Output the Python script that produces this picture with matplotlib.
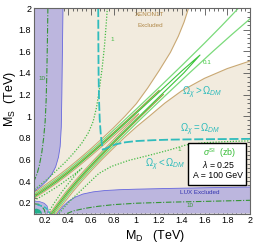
import matplotlib
matplotlib.use("Agg")
import matplotlib.pyplot as plt
from matplotlib.patches import Polygon, Rectangle
from matplotlib.ticker import MultipleLocator, FuncFormatter
import numpy as np

plt.rcParams['font.family'] = ['Liberation Sans', 'DejaVu Sans']
plt.rcParams['mathtext.fontset'] = 'custom'
plt.rcParams['mathtext.rm'] = 'Liberation Sans'
plt.rcParams['mathtext.it'] = 'Liberation Sans:italic'
plt.rcParams['mathtext.bf'] = 'Liberation Sans:bold'

# ---------------- data (TeV) ----------------
# LUX excluded boundaries
lux_left_x = [0.355, 0.35, 0.345, 0.34, 0.33, 0.315, 0.29, 0.255, 0.21, 0.16, 0.1]
lux_left_y = [2.0, 1.6, 1.2, 0.9, 0.72, 0.62, 0.53, 0.46, 0.4, 0.35, 0.305]
lux_bot_x = [0.305, 0.35, 0.40, 0.46, 0.53, 0.62, 0.72, 0.85, 1.0, 1.3, 1.6, 2.0]
lux_bot_y = [0.1, 0.16, 0.21, 0.25, 0.28, 0.30, 0.312, 0.32, 0.325, 0.332, 0.338, 0.345]
lux_corner_x = [0.1, 0.1, 0.15, 0.19, 0.215, 0.225, 0.215]
lux_corner_y = [0.1, 0.215, 0.21, 0.195, 0.17, 0.13, 0.1]
teal_x = [0.1, 0.1, 0.125, 0.15, 0.165, 0.17]
teal_y = [0.1, 0.142, 0.145, 0.135, 0.118, 0.1]

# XENON1T boundaries (outer = edge of allowed white region, inner = wedge)
xe_up_x = [1.46, 1.42, 1.37, 1.3, 1.2, 1.1, 1.0, 0.9, 0.8, 0.7, 0.6, 0.5, 0.4, 0.3, 0.2, 0.1]
xe_up_y = [2.0, 1.87, 1.74, 1.59, 1.42, 1.26, 1.115, 0.999, 0.893, 0.794, 0.698, 0.607, 0.521, 0.44, 0.365, 0.293]
xe_lo_x = [0.293, 0.365, 0.44, 0.521, 0.607, 0.698, 0.794, 0.893, 0.999, 1.115, 1.25, 1.4, 1.6, 1.8, 2.0]
xe_lo_y = [0.1, 0.2, 0.3, 0.4, 0.5, 0.6, 0.7, 0.8, 0.9, 1.0, 1.12, 1.235, 1.35, 1.44, 1.51]
xe_in_up_x = [1.02, 1.0, 0.9, 0.8, 0.7, 0.6, 0.5, 0.4, 0.3, 0.2, 0.1]
xe_in_up_y = [1.02, 1.006, 0.911, 0.816, 0.723, 0.632, 0.544, 0.46, 0.381, 0.309, 0.24]
xe_in_lo_x = [0.24, 0.309, 0.381, 0.46, 0.544, 0.632, 0.723, 0.816, 0.911, 1.006, 1.02]
xe_in_lo_y = [0.1, 0.2, 0.3, 0.4, 0.5, 0.6, 0.7, 0.8, 0.9, 1.0, 1.02]

# blind-spot centre lines
bs_up_x = [0.1, 0.15, 0.2, 0.3, 0.4, 0.5, 0.6, 0.7, 0.8, 0.9, 1.0, 1.2]
bs_up_y = [0.265, 0.30, 0.335, 0.408, 0.488, 0.573, 0.662, 0.754, 0.848, 0.944, 1.04, 1.237]
bs_lo_x = [0.265, 0.30, 0.335, 0.408, 0.488, 0.573, 0.662, 0.754, 0.848, 0.944, 1.04, 1.237]
bs_lo_y = [0.1, 0.15, 0.2, 0.3, 0.4, 0.5, 0.6, 0.7, 0.8, 0.9, 1.0, 1.2]

# sigma_SI = 0.1 zb (solid)
s01_up_x = [0.1, 0.2, 0.3, 0.4, 0.5, 0.6, 0.7, 0.8, 1.0, 1.2, 1.4, 1.6, 1.75, 1.9]
s01_up_y = [0.278, 0.349, 0.423, 0.504, 0.59, 0.68, 0.773, 0.87, 1.065, 1.265, 1.468, 1.675, 1.835, 2.0]
s01_lo_x = [0.278, 0.349, 0.423, 0.504, 0.59, 0.68, 0.773, 0.87, 1.065, 1.265, 1.468, 1.675, 1.835, 2.0]
s01_lo_y = [0.1, 0.2, 0.3, 0.4, 0.5, 0.6, 0.7, 0.8, 1.0, 1.2, 1.4, 1.6, 1.75, 1.9]
s01_tongue_x = [0.1, 0.2, 0.3, 0.4, 0.5, 0.6, 0.7, 0.8, 1.0, 1.2, 1.4, 1.56,
                1.418, 1.222, 1.027, 0.835, 0.741, 0.649, 0.56, 0.475, 0.395, 0.322, 0.252]
s01_tongue_y = [0.252, 0.322, 0.395, 0.475, 0.56, 0.649, 0.741, 0.835, 1.027, 1.222, 1.418, 1.565,
                1.4, 1.2, 1.0, 0.8, 0.7, 0.6, 0.5, 0.4, 0.3, 0.2, 0.1]

# sigma_SI = 1 zb (dotted)
s1_up_x = [0.745, 0.735, 0.72, 0.70, 0.675, 0.65, 0.62, 0.58, 0.52, 0.45, 0.38, 0.3, 0.22, 0.15, 0.1]
s1_up_y = [2.0, 1.85, 1.65, 1.45, 1.25, 1.08, 0.95, 0.85, 0.75, 0.66, 0.58, 0.5, 0.42, 0.36, 0.32]
s1_lo_x = [0.32, 0.36, 0.42, 0.5, 0.58, 0.67, 0.78, 0.93, 1.12, 1.3, 1.44, 1.6, 1.8, 2.0]
s1_lo_y = [0.1, 0.15, 0.22, 0.3, 0.38, 0.47, 0.535, 0.59, 0.64, 0.69, 0.735, 0.755, 0.765, 0.772]
s1_in_x = [0.1, 0.2, 0.3, 0.4, 0.47, 0.52, 0.475, 0.42, 0.345, 0.28, 0.22]
s1_in_y = [0.22, 0.28, 0.345, 0.42, 0.475, 0.518, 0.47, 0.4, 0.3, 0.2, 0.1]

# sigma_SI = 10 zb (dash-dot)
s10_up_x = [0.222, 0.218, 0.213, 0.207, 0.198, 0.185, 0.168, 0.148, 0.128, 0.1]
s10_up_y = [2.0, 1.7, 1.4, 1.15, 0.95, 0.8, 0.66, 0.55, 0.47, 0.40]
s10_lo_x = [0.39, 0.45, 0.55, 0.66, 0.8, 1.0, 1.3, 1.6, 2.0]
s10_lo_y = [0.1, 0.125, 0.148, 0.166, 0.182, 0.195, 0.205, 0.212, 0.222]
s10_in_x = [0.1, 0.14, 0.17, 0.19, 0.2]
s10_in_y = [0.19, 0.185, 0.165, 0.135, 0.1]

# relic density Omega = Omega_DM (dashed)
relic_x = [0.665, 0.666, 0.668, 0.672, 0.678, 0.686, 0.694, 0.700, 0.705, 0.72, 0.76,
           0.82, 0.9, 1.0, 1.15, 1.3, 1.5, 1.75, 2.0]
relic_y = [2.0, 1.7, 1.4, 1.15, 0.97, 0.85, 0.77, 0.72, 0.69, 0.695, 0.715,
           0.74, 0.758, 0.77, 0.778, 0.783, 0.786, 0.788, 0.79]
relic_low_x = [0.13, 0.17, 0.2, 0.225, 0.24]
relic_low_y = [0.18, 0.17, 0.155, 0.13, 0.1]

# ---------------- styling ----------------
BEIGE = '#f2ebde'
PURPLE = '#bcb6de'
TAN = '#c9a873'
OLIVE = '#98a040'
LGREEN = '#7ada7a'
BGREEN = '#3cc43c'
DOTG = '#45bb45'
DDG = '#359535'
CYAN = '#30bcbc'
BLUE = '#6666dd'

fig = plt.figure(figsize=(2.58, 2.47), dpi=100)
ax = fig.add_axes([0.1318, 0.1356, 0.8372, 0.832])
ax.set_xlim(0.1, 2.0)
ax.set_ylim(0.1, 2.0)
ax.set_facecolor(BEIGE)

# allowed (white) region
wx = np.concatenate([xe_up_x, [0.1], xe_lo_x, [2.0]])
wy = np.concatenate([xe_up_y, [0.1], xe_lo_y, [2.0]])
ax.add_patch(Polygon(np.column_stack([wx, wy]), closed=True, fc='white', ec='none', zorder=1))
# excluded wedge between the two blind-spot strips
gx = np.concatenate([xe_in_up_x, [0.1], xe_in_lo_x])
gy = np.concatenate([xe_in_up_y, [0.1], xe_in_lo_y])
ax.add_patch(Polygon(np.column_stack([gx, gy]), closed=True, fc=BEIGE, ec='none', zorder=1.5))

# LUX excluded regions
plx = np.concatenate([[0.1], lux_left_x])
ply = np.concatenate([[2.0], lux_left_y])
ax.add_patch(Polygon(np.column_stack([plx, ply]), closed=True, fc=PURPLE, ec='none', zorder=2))
pbx = np.concatenate([lux_bot_x, [2.0]])
pby = np.concatenate([lux_bot_y, [0.1]])
ax.add_patch(Polygon(np.column_stack([pbx, pby]), closed=True, fc=PURPLE, ec='none', zorder=2))
ax.add_patch(Polygon(np.column_stack([lux_corner_x, lux_corner_y]), closed=True, fc=PURPLE, ec='none', zorder=2))
ax.add_patch(Polygon(np.column_stack([teal_x, teal_y]), closed=True, fc='#22b08c', ec='none', zorder=2.2))
ax.plot(lux_left_x, lux_left_y, color=BLUE, lw=0.6, zorder=2.5)
ax.plot(lux_bot_x, lux_bot_y, color=BLUE, lw=0.6, zorder=2.5)
ax.plot(lux_corner_x[1:], lux_corner_y[1:], color=BLUE, lw=0.5, zorder=2.5)

# XENON1T contours
for xs, ys in [(xe_up_x, xe_up_y), (xe_lo_x, xe_lo_y), (xe_in_up_x, xe_in_up_y), (xe_in_lo_x, xe_in_lo_y)]:
    ax.plot(xs, ys, color=TAN, lw=0.8, zorder=3)

# blind spot lines
ax.plot(bs_up_x, bs_up_y, color=OLIVE, lw=0.9, zorder=3.2)
ax.plot(bs_lo_x, bs_lo_y, color=OLIVE, lw=0.9, zorder=3.2)

# sigma contours
ax.plot(s01_up_x, s01_up_y, color=LGREEN, lw=0.9, zorder=3.5)
ax.plot(s01_lo_x, s01_lo_y, color=LGREEN, lw=0.9, zorder=3.5)
ax.plot(s01_tongue_x, s01_tongue_y, color=BGREEN, lw=0.8, zorder=3.5)
dots = (0, (1, 1.3))
for xs, ys in [(s1_up_x, s1_up_y), (s1_lo_x, s1_lo_y), (s1_in_x, s1_in_y)]:
    ax.plot(xs, ys, color=DOTG, lw=0.9, ls=dots, zorder=3.6)
dd = (0, (5, 1.5, 1, 1.5))
for xs, ys in [(s10_up_x, s10_up_y), (s10_lo_x, s10_lo_y), (s10_in_x, s10_in_y)]:
    ax.plot(xs, ys, color=DDG, lw=0.8, ls=dd, zorder=3.6)

# relic density
ax.plot(relic_x, relic_y, color=CYAN, lw=1.3, ls=(0, (5, 1.5)), zorder=4)
ax.plot(relic_low_x, relic_low_y, color=CYAN, lw=1.1, ls=(0, (3, 1.5)), zorder=4)

# ---------------- texts ----------------
ax.text(1.12, 1.94, 'XENON1T', color='#b08848', fontsize=4.5, ha='center', va='center', zorder=6)
ax.text(1.12, 1.84, 'Excluded', color='#b08848', fontsize=4.5, ha='center', va='center', zorder=6)
ax.text(1.56, 0.29, 'LUX Excluded', color='#3232b0', fontsize=4.5, ha='center', va='center', zorder=6)
ax.text(0.17, 1.35, '10', color=DDG, fontsize=4.5, ha='center', va='center', zorder=6)
ax.text(1.47, 0.172, '10', color=DDG, fontsize=4.5, ha='center', va='center', zorder=6)
ax.text(0.785, 1.71, '1', color=DOTG, fontsize=4.5, ha='center', va='center', zorder=6)
ax.text(1.38, 0.695, '1', color=DOTG, fontsize=4.5, ha='center', va='center', zorder=6)
ax.text(1.62, 1.50, '0.1', color=BGREEN, fontsize=4.5, ha='center', va='center', zorder=6)
ax.text(1.58, 1.22, r'$\Omega_{\chi} > \Omega_{DM}$', color=CYAN, fontsize=7, ha='center', va='center', zorder=6)
ax.text(1.565, 0.87, r'$\Omega_{\chi} = \Omega_{DM}$', color=CYAN, fontsize=7, ha='center', va='center', zorder=6)
ax.text(1.25, 0.55, r'$\Omega_{\chi} < \Omega_{DM}$', color=CYAN, fontsize=7, ha='center', va='center', zorder=6)

ax.add_patch(Rectangle((1.454, 0.362), 0.513, 0.387, fc='white', ec='black', lw=1.0, zorder=8))
ax.text(1.73, 0.655, r'$\sigma^{\rm SI}$  (zb)', color='#33bb33', fontsize=6.3, ha='center', va='center', zorder=9)
ax.text(1.72, 0.55, r'$\lambda$ = 0.25', color='black', fontsize=6.3, ha='center', va='center', zorder=9)
ax.text(1.72, 0.448, 'A = 100 GeV', color='black', fontsize=6.3, ha='center', va='center', zorder=9)

# ---------------- axes ----------------
fmt = FuncFormatter(lambda v, p: f'{v:g}')
ax.xaxis.set_major_locator(MultipleLocator(0.2))
ax.yaxis.set_major_locator(MultipleLocator(0.2))
ax.xaxis.set_minor_locator(MultipleLocator(0.04))
ax.yaxis.set_minor_locator(MultipleLocator(0.04))
ax.xaxis.set_major_formatter(fmt)
ax.yaxis.set_major_formatter(fmt)
ax.tick_params(which='both', direction='in', top=True, right=True, color='#555555', width=0.6,
               labelsize=6.5, pad=2)
ax.tick_params(which='major', length=5)
ax.tick_params(which='minor', length=2.5)
for s in ax.spines.values():
    s.set_color('#666666')
    s.set_linewidth(0.8)
    s.set_zorder(10)

ax.set_xlabel(r'M$_{\rm D}$   (TeV)', fontsize=9)
ax.set_ylabel(r'M$_{\rm S}$  (TeV)', fontsize=9)
ax.xaxis.set_label_coords(0.56, -0.07)
ax.yaxis.set_label_coords(-0.075, 0.56)

fig.savefig('out.png', dpi=100)
